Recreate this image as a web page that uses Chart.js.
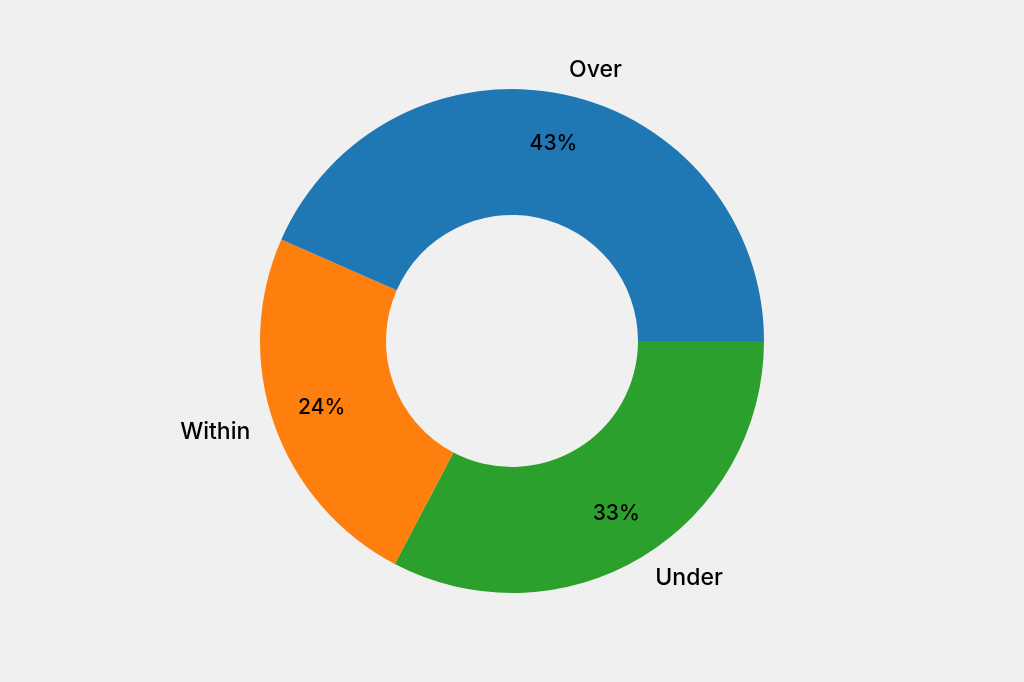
<!DOCTYPE html>
<html>
<head>
<meta charset="utf-8">
<script src="https://cdn.jsdelivr.net/npm/chart.js@4"></script>
<style>
  html, body { margin: 0; padding: 0; background: #f0f0f0; }
  #wrap { width: 1024px; height: 682px; }
</style>
</head>
<body>
<div id="wrap"><canvas id="donut"></canvas></div>
<script>
// values (drawn clockwise from 3 o'clock)
const categories = ["Under", "Within", "Over"];
const shares = [32.7, 23.9, 43.4];
const sliceColors = ["#2ca02c", "#ff7f0e", "#1f77b4"];

const FONT = "Inter, 'Noto Sans', sans-serif";

// labels outside the ring and percentages inside, like matplotlib's pie
const pieLabels = {
  id: "pieLabels",
  afterDatasetsDraw(chart) {
    const ctx = chart.ctx;
    const arcs = chart.getDatasetMeta(0).data;
    const total = shares.reduce((a, b) => a + b, 0);
    ctx.save();
    ctx.fillStyle = "#000";
    ctx.textBaseline = "middle";
    arcs.forEach((arc, i) => {
      const mid = (arc.startAngle + arc.endAngle) / 2;
      const r = arc.outerRadius;
      // category name
      const lx = arc.x + Math.cos(mid) * r * 1.1;
      const ly = arc.y + Math.sin(mid) * r * 1.1;
      ctx.font = "500 23px " + FONT;
      ctx.textAlign = Math.cos(mid) < 0 ? "right" : "left";
      ctx.fillText(categories[i], lx, ly);
      // percentage
      const px = arc.x + Math.cos(mid) * r * 0.8;
      const py = arc.y + Math.sin(mid) * r * 0.8;
      ctx.font = "500 21px " + FONT;
      ctx.textAlign = "center";
      ctx.fillText((shares[i] / total * 100).toFixed(0) + "%", px, py);
    });
    ctx.restore();
  }
};

let donut = new Chart(document.getElementById("donut"), {
  type: "doughnut",
  data: {
    labels: categories,
    datasets: [
      {
        data: shares,
        backgroundColor: sliceColors,
        borderWidth: 0,
      },
    ],
  },
  options: {
    responsive: true,
    maintainAspectRatio: false,
    animation: false,
    rotation: 90,
    cutout: "50%",
    layout: { padding: { top: 89, bottom: 89 } },
    plugins: {
      legend: { display: false },
      tooltip: { enabled: false },
    },
  },
  plugins: [pieLabels],
});
</script>
</body>
</html>
